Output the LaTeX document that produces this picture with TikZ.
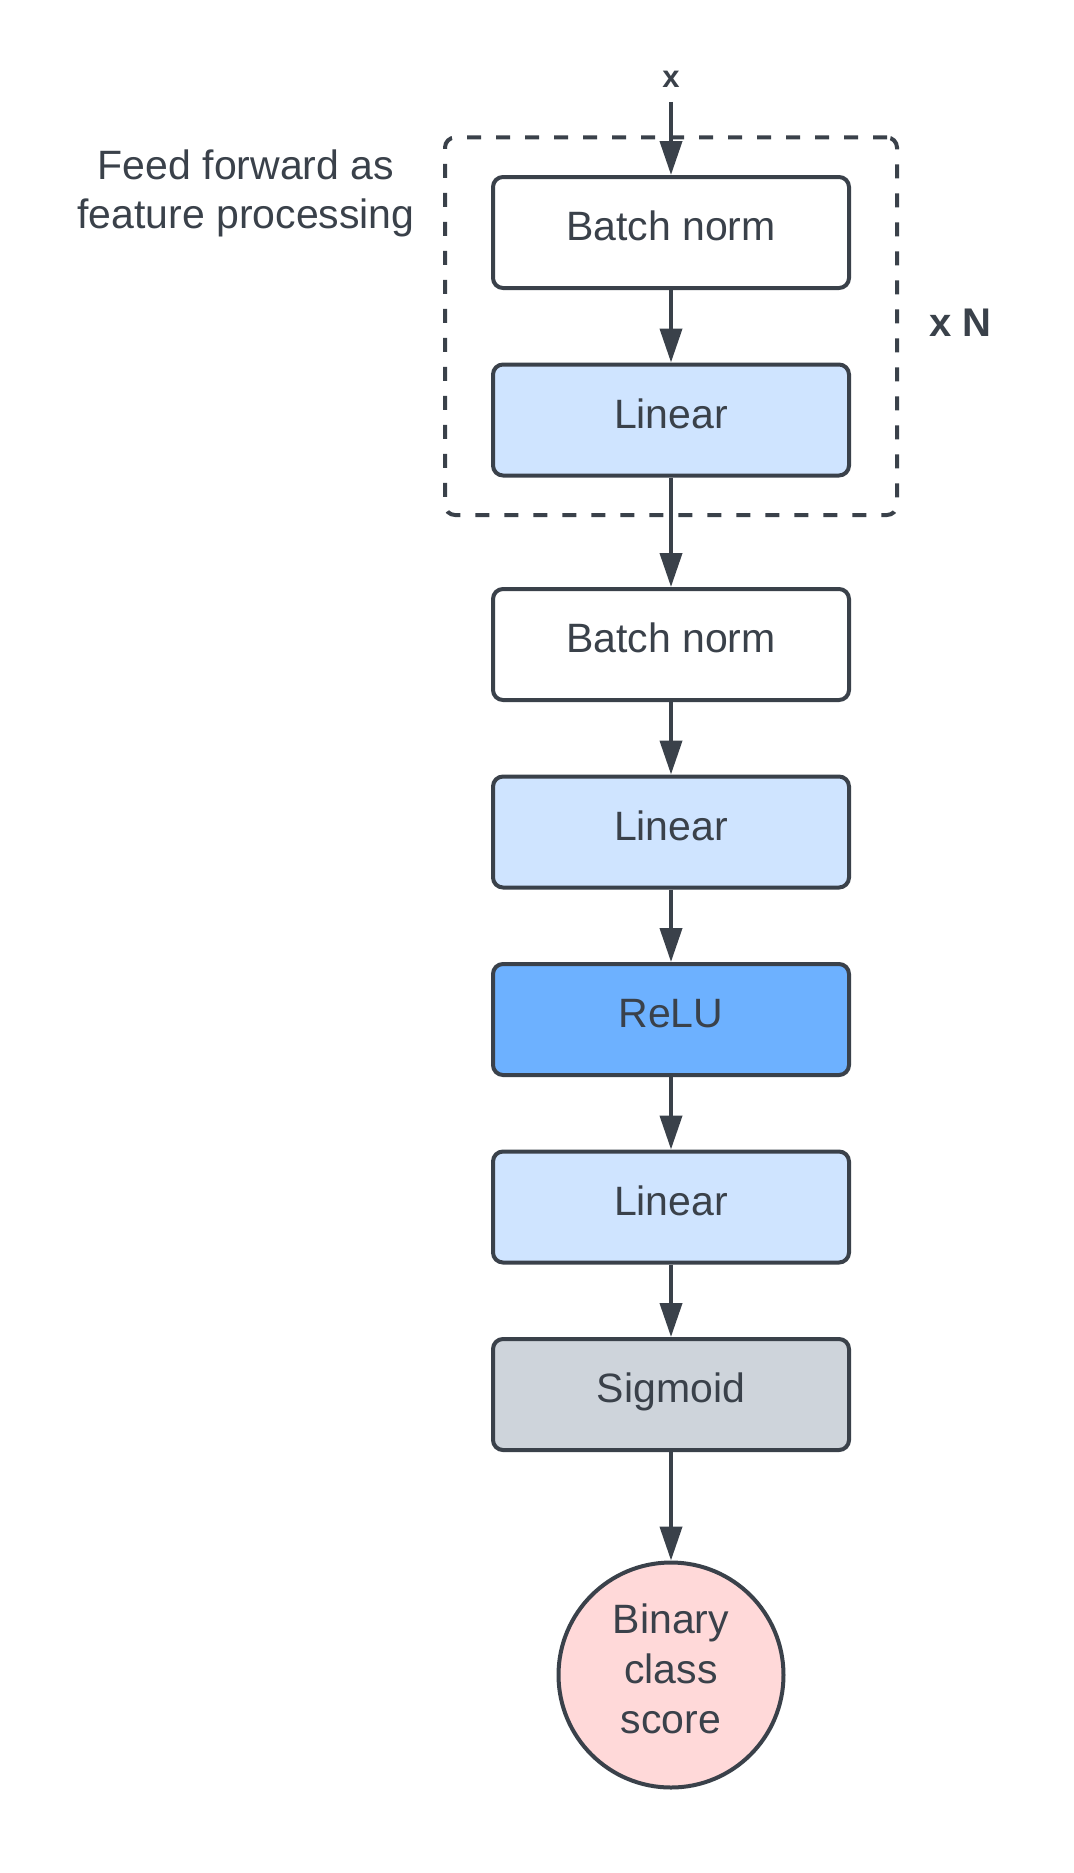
\documentclass[tikz,border=0pt]{standalone}
\usepackage{fontspec}
\setmainfont{Liberation Sans}
\definecolor{lucidInk}{RGB}{58,65,74}
\definecolor{lucidLinear}{RGB}{207,228,255}
\definecolor{lucidRelu}{RGB}{109,177,255}
\definecolor{lucidSigmoid}{RGB}{206,212,219}
\definecolor{lucidScore}{RGB}{255,217,217}
\usetikzlibrary{arrows.meta,positioning,fit}

\begin{document}
\begin{tikzpicture}[
    block/.style={rectangle, rounded corners=5pt, draw=lucidInk, line width=2pt,
      fill=white, minimum width=178pt, minimum height=55.5pt, inner sep=0pt,
      text=lucidInk, font=\fontsize{20.5}{25}\selectfont,
      text height=12pt, text depth=4pt},
    flow/.style={-{Triangle[length=17pt, width=11pt]}, lucidInk, line width=2pt},
    tag/.style={text=lucidInk, inner sep=0pt, font=\fontsize{15.5}{18}\selectfont\bfseries},
    node distance=36.25pt
  ]
  \useasboundingbox (0,0) rectangle (537pt,-936.5pt);

  % repeated feature block
  \node[block] (bn1) at (335.5pt,-116.25pt) {Batch norm};
  \node[block, fill=lucidLinear, below=of bn1] (lin1) {Linear};
  \node[draw=lucidInk, line width=2pt, dash pattern=on 7pt off 7.5pt,
        rounded corners=5pt, inner xsep=23pt, inner ysep=18.75pt,
        fit=(bn1)(lin1)] (ff) {};
  \node[tag] (x) [above=43.5pt of bn1] {x};
  \node[tag, font=\fontsize{20}{24}\selectfont\bfseries,
        right=15pt of ff, yshift=2pt] (rep) {x N};
  \node[text=lucidInk, inner sep=0pt, align=center,
        font=\fontsize{20.5}{24.5}\selectfont, anchor=north east] (lbl)
    at ([xshift=-14pt, yshift=-6.8pt]ff.north west)
    {Feed forward as\\feature processing};

  % classifier head
  \node[block, below=54.75pt of lin1] (bn2) {Batch norm};
  \node[block, fill=lucidLinear, below=of bn2] (lin2) {Linear};
  \node[block, fill=lucidRelu, below=of lin2] (relu) {ReLU};
  \node[block, fill=lucidLinear, below=of relu] (lin3) {Linear};
  \node[block, fill=lucidSigmoid, below=of lin3] (sig) {Sigmoid};
  \node[circle, draw=lucidInk, fill=lucidScore, line width=2pt, inner sep=0pt,
        minimum size=112.5pt, text=lucidInk, align=center,
        font=\fontsize{20.5}{25}\selectfont, below=54.25pt of sig] (score)
    {Binary\\class\\score\rule[-6.5pt]{0pt}{6.5pt}};

  \draw[flow, shorten <=7pt] (x) -- (bn1);
  \draw[flow] (bn1) -- (lin1);
  \draw[flow] (lin1) -- (bn2);
  \draw[flow] (bn2) -- (lin2);
  \draw[flow] (lin2) -- (relu);
  \draw[flow] (relu) -- (lin3);
  \draw[flow] (lin3) -- (sig);
  \draw[flow] (sig) -- (score);
\end{tikzpicture}
\end{document}
